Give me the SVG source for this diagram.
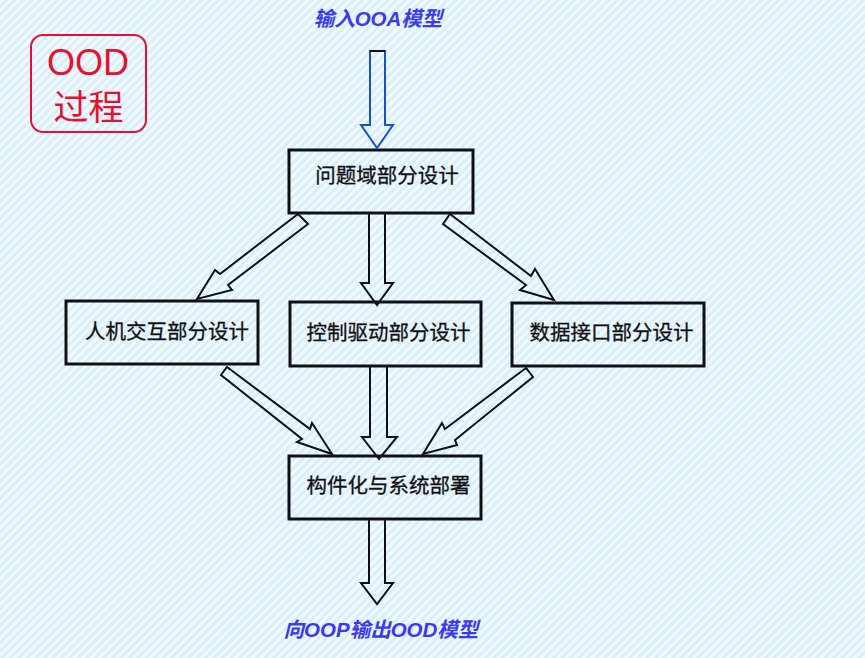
<svg xmlns="http://www.w3.org/2000/svg" width="865" height="658" viewBox="0 0 865 658">
<defs>
<pattern id="bg" width="6" height="6" patternUnits="userSpaceOnUse" patternTransform="rotate(45)">
<rect width="6" height="6" fill="#d9effc"/>
<rect width="3" height="6" fill="#f2faff"/>
</pattern>
</defs>
<style>
.box{fill:none;stroke:#111;stroke-width:3}
.lbl{font-family:"Noto Sans CJK SC","Liberation Sans",sans-serif;font-size:20.5px;fill:#111;stroke:#111;stroke-width:0.3;text-anchor:middle}
.blue{font-family:"Liberation Sans","Noto Sans CJK SC",sans-serif;font-size:20.5px;font-weight:bold;font-style:italic;fill:#3a3af0;text-anchor:middle}
.arr{fill:none;stroke:#111;stroke-width:2;stroke-linejoin:miter}
</style>
<rect width="865" height="658" fill="url(#bg)"/>
<g id="title">
<rect x="31" y="35" width="115" height="97" rx="12" fill="none" stroke="#e8102e" stroke-width="2"/>
<text x="88" y="75" font-family="Liberation Sans,Noto Sans CJK SC,sans-serif" font-size="36" fill="#e8102e" text-anchor="middle">OOD</text>
<text x="88.5" y="120" font-family="Noto Sans CJK SC,sans-serif" font-size="35" fill="#e8102e" text-anchor="middle">过程</text>
</g>
<g id="input"><text class="blue" x="378" y="26">输入OOA模型</text></g>
<g id="output"><text class="blue" x="381" y="637">向OOP输出OOD模型</text></g>
<g id="n1"><rect class="box" x="289" y="150" width="184" height="63"/><text class="lbl" x="387" y="183">问题域部分设计</text></g>
<g id="n2"><rect class="box" x="66" y="301" width="192" height="63"/><text class="lbl" x="167" y="339">人机交互部分设计</text></g>
<g id="n3"><rect class="box" x="290" y="302" width="191" height="64"/><text class="lbl" x="388.5" y="340">控制驱动部分设计</text></g>
<g id="n4"><rect class="box" x="512" y="303" width="192" height="63"/><text class="lbl" x="611.5" y="340">数据接口部分设计</text></g>
<g id="n5"><rect class="box" x="289" y="456" width="192" height="63"/><text class="lbl" x="388.5" y="493">构件化与系统部署</text></g>
<g id="connectors">
<polygon points="370,51 385,51 385,125 393,125 377,148 361,125 370,125" fill="none" stroke="#1a4fd0" stroke-width="2"/>
<line x1="370" y1="51" x2="385" y2="51" stroke="#111" stroke-width="2"/>
<polygon class="arr" points="369,213 385,213 385,283 393,283 377,305 361,283 369,283"/>
<polygon class="arr" points="298,214 220,274 215,270 197,299 232,290 228,285 308,224"/>
<polygon class="arr" points="450,214 531,276 535,269 554,300 520,290 526,285 443,224"/>
<polygon class="arr" points="227,367 310,429 312,423 332,454 297,442 302,439 221,375"/>
<polygon class="arr" points="370,366 387,366 387,437 397,437 379,459 362,437 370,437"/>
<polygon class="arr" points="526,368 445,429 442,423 423,454 457,445 455,440 533,377"/>
<polygon class="arr" stroke-width="1.5" points="369,519 385,519 385,583 393,583 377,604 361,583 369,583"/>
</g>
</svg>
